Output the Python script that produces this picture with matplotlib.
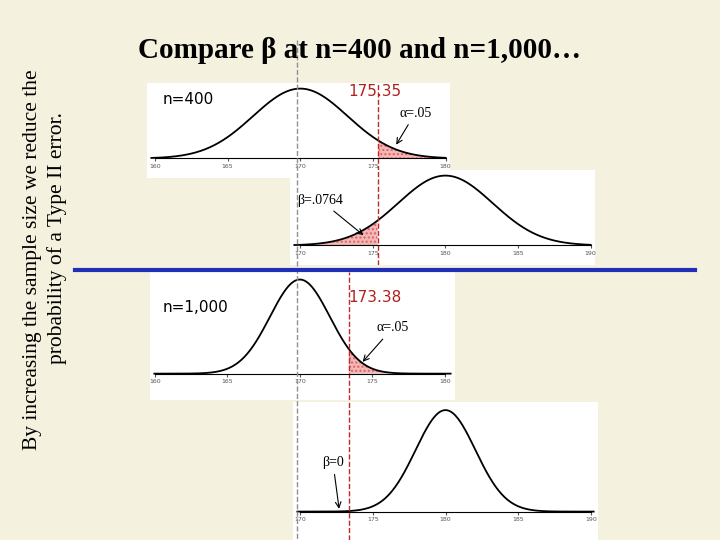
import matplotlib.pyplot as plt
import numpy as np

# values
mu0, mu1 = 170, 180
sd400, sd1000 = 3.25, 2.06
cut400, cut1000 = 175.35, 173.38
beta400 = ".0764"
beta1000 = "0"

W, H = 720, 540
bg = "#F5F1DF"
serif = ["Liberation Serif", "DejaVu Serif"]
fig = plt.figure(figsize=(7.2, 5.4), dpi=100, facecolor=bg)


def px_axes(l, t, r, b):
    return fig.add_axes([l / W, 1 - b / H, (r - l) / W, (b - t) / H])


def pdf(x, m, s):
    return np.exp(-0.5 * ((x - m) / s) ** 2) / (s * np.sqrt(2 * np.pi))


def panel(box, xlim, m, s, cut, ticks, side):
    ax = px_axes(*box)
    ax.set_facecolor("white")
    x = np.linspace(xlim[0] + 0.3, xlim[1] - 0.3, 400)
    y = pdf(x, m, s)
    pk = y.max()
    ax.plot(x, y, color="black", lw=1.3)
    xs = x[x >= cut] if side == "right" else x[x <= cut]
    ax.fill_between(xs, 0, pdf(xs, m, s), color="#F2B8B8", hatch="....",
                    edgecolor="#E06060", lw=0)
    ax.axvline(cut, color="#C0282C", ls="--", lw=1)
    ax.set_xlim(*xlim)
    ax.set_ylim(-0.28 * pk, 1.08 * pk)
    ax.set_yticks([])
    for sp in ["left", "right", "top"]:
        ax.spines[sp].set_visible(False)
    ax.spines["bottom"].set_position(("data", 0))
    ax.spines["bottom"].set_bounds(ticks[0], ticks[-1])
    ax.set_xticks(ticks)
    ax.tick_params(axis="x", labelsize=4.5, length=2, pad=2, colors="#555555")
    return ax, pk


# n=400
ax1, pk = panel((147, 83, 450, 178), (159.45, 180.3), mu0, sd400, cut400,
                [160, 165, 170, 175, 180], "right")
ax1.annotate("α=.05", xy=(176.5, 0.02), xytext=(176.8, 0.6 * pk),
             fontsize=10, family=serif,
             arrowprops=dict(arrowstyle="->", lw=0.8))
ax2, pk = panel((290, 170, 595, 265), (169.3, 190.3), mu1, sd400, cut400,
                [170, 175, 180, 185, 190], "left")
ax2.annotate("β=" + beta400, xy=(174.5, 0.015), xytext=(169.8, 0.6 * pk),
             fontsize=10, family=serif,
             arrowprops=dict(arrowstyle="->", lw=0.8))

# n=1,000
ax3, pk = panel((150, 272, 455, 400), (159.66, 180.7), mu0, sd1000, cut1000,
                [160, 165, 170, 175, 180], "right")
ax3.annotate("α=.05", xy=(174.2, 0.02), xytext=(175.3, 0.45 * pk),
             fontsize=10, family=serif,
             arrowprops=dict(arrowstyle="->", lw=0.8))
ax4, pk = panel((293, 402, 598, 540), (169.5, 190.5), mu1, sd1000, cut1000,
                [170, 175, 180, 185, 190], "left")
ax4.annotate("β=" + beta1000, xy=(172.7, 0.0), xytext=(171.5, 0.45 * pk),
             fontsize=10, family=serif,
             arrowprops=dict(arrowstyle="->", lw=0.8))

# overlay lines and text in pixel coordinates
ov = fig.add_axes([0, 0, 1, 1], facecolor="none")
ov.set_xlim(0, W)
ov.set_ylim(H, 0)
ov.axis("off")
ov.plot([297, 297], [40, 540], color="#909090", ls="--", lw=1)
ov.plot([75, 695], [270, 270], color="#1F2FB8", lw=3)
ov.text(360, 50, "Compare β at n=400 and n=1,000…", fontsize=21,
        family=serif, weight="bold", ha="center", va="center")
ov.text(163, 100, "n=400", fontsize=11, ha="left", va="center")
ov.text(163, 308, "n=1,000", fontsize=11, ha="left", va="center")
ov.text(375, 92, f"{cut400:.2f}", fontsize=11, color="#B02020", ha="center", va="center")
ov.text(375, 297, f"{cut1000:.2f}", fontsize=11, color="#B02020", ha="center", va="center")
ov.text(33, 260, "By increasing the sample size we reduce the", rotation=90,
        fontsize=15.5, family=serif, ha="center", va="center")
ov.text(57, 238, "probability of a Type II error.", rotation=90,
        fontsize=15.5, family=serif, ha="center", va="center")

fig.savefig("out.png", dpi=100, facecolor=bg)
